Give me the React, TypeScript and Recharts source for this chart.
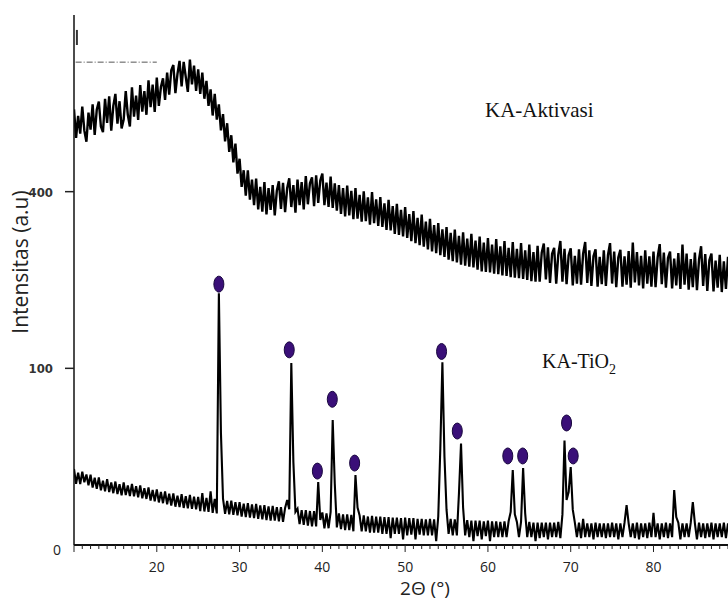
import { ComposedChart, Line, Scatter, XAxis, YAxis, ReferenceLine } from "recharts"

// 2θ sampling of both scans (degrees)
const START = 10
const STEP = 0.25

// KA-Aktivasi, one row per degree (x.00, x.25, x.50, x.75)
const aktivasi = [
  608, 531, 590, 542, 616, 550, 521, 599, 553, 622, 539, 607, 630, 561, 546, 638,
  571, 645, 550, 618, 652, 569, 631, 556, 580, 660, 593, 561, 671, 588, 647, 579,
  678, 602, 660, 593, 692, 614, 679, 601, 700, 618, 672, 698, 635, 715, 650, 722,
  738, 654, 711, 751, 674, 748, 702, 658, 755, 680, 736, 661, 725, 652, 715, 638,
  690, 618, 665, 591, 652, 580, 622, 551, 595, 522, 570, 495, 538, 469, 516, 442,
  478, 411, 450, 391, 450, 382, 428, 370, 430, 361, 411, 356, 422, 350, 408, 360,
  415, 348, 402, 424, 362, 420, 355, 408, 431, 366, 415, 354, 428, 370, 422, 361,
  436, 372, 419, 433, 368, 438, 375, 426, 442, 370, 421, 366, 435, 364, 419, 358,
  415, 351, 408, 346, 414, 348, 402, 340, 408, 341, 393, 335, 401, 336, 387, 329,
  399, 332, 383, 326, 388, 324, 374, 318, 382, 317, 368, 310, 373, 308, 360, 305,
  366, 302, 351, 296, 357, 292, 343, 288, 350, 285, 335, 280, 341, 276, 328, 273,
  332, 269, 319, 266, 324, 261, 312, 258, 319, 256, 306, 252, 313, 250, 301, 248,
  310, 247, 297, 243, 305, 240, 293, 239, 302, 238, 289, 236, 300, 235, 286, 233,
  296, 232, 283, 230, 294, 229, 281, 228, 292, 227, 278, 225, 289, 223, 275, 222,
  287, 222, 274, 291, 226, 284, 220, 272, 283, 219, 270, 296, 222, 281, 218, 269,
  282, 216, 268, 219, 280, 217, 272, 294, 220, 278, 215, 267, 280, 214, 266, 218,
  278, 215, 269, 292, 219, 276, 213, 265, 279, 214, 267, 217, 277, 212, 293, 221,
  275, 216, 268, 211, 278, 219, 267, 214, 276, 213, 265, 290, 218, 274, 212, 264,
  276, 211, 263, 216, 273, 210, 289, 217, 272, 209, 262, 213, 274, 208, 261, 286,
  215, 271, 207, 260, 272, 206, 259, 212, 270, 205, 258, 210, 266,
]

// KA-TiO2, same sampling
const tio2 = [
  18.5, 12.0, 16.8, 11.9, 17.2, 12.6, 15.9, 11.4, 15.8, 10.6, 14.5, 10.1, 14.6, 9.6, 13.2, 9.2,
  13.9, 9.0, 12.5, 8.6, 12.9, 8.3, 11.8, 7.9, 12.5, 8.0, 11.4, 7.7, 12.0, 7.6, 11.1, 7.3,
  11.4, 7.0, 10.3, 6.8, 10.6, 6.3, 9.7, 6.1, 9.9, 5.8, 9.0, 5.6, 9.2, 5.3, 8.4, 5.0,
  8.5, 4.7, 7.8, 4.6, 8.3, 4.4, 7.6, 4.3, 8.0, 4.2, 7.5, 4.1, 7.4, 3.7, 8.6, 3.6,
  7.1, 3.5, 9.2, 3.3, 6.8, 3.2, 203, 40, 6.9, 3.1, 6.2, 3.0, 6.3, 2.9, 5.9, 2.8,
  5.9, 2.6, 5.5, 2.5, 5.6, 2.4, 5.3, 2.3, 5.4, 2.2, 5.0, 2.1, 5.1, 2.0, 4.8, 1.9,
  4.9, 1.9, 4.6, 1.8, 4.6, 1.7, 4.4, 6.5, 4.1, 106, 22, 3.5, 4.2, 1.4, 3.9, 1.3,
  3.9, 1.2, 3.7, 1.1, 3.7, 1.1, 12.7, 2.0, 3.4, 0.9, 3.2, 0.9, 3.5, 50, 12, 1.0,
  3.2, 0.8, 3.0, 0.7, 3.0, 0.7, 2.9, 0.6, 15.7, 4.5, 2.8, 0.6, 2.8, 0.6, 2.6, 0.5,
  2.7, 0.5, 2.6, 0.5, 2.6, 0.4, 2.5, 0.4, 2.5, 0.15, 2.4, 0.4, 2.4, 0.4, 2.3, 0.1,
  2.4, 0.3, 2.3, 0.35, 2.3, 0.1, 2.2, 0.35, 2.2, 0.3, 2.1, 0.3, 2.2, 0.3, 2.1, 0.05,
  2.6, 30, 107, 25, 4.0, 0.4, 2.2, 0.3, 2.1, 0.3, 8.5, 33, 4.5, 0.3, 2.0, 0.2,
  1.9, 0.05, 1.9, 0.25, 1.9, 0.1, 1.8, 0.25, 1.9, 0.05, 1.8, 0.2, 1.8, 0.2, 1.7, 0.2,
  1.8, 0.2, 1.8, 3.5, 18, 3.0, 1.7, 0.2, 1.7, 19, 3.2, 0.2, 1.7, 0.2, 1.6, 0.05,
  1.6, 0.15, 1.6, 0.2, 1.6, 0.1, 1.6, 0.2, 1.6, 0.2, 1.7, 0.15, 3.0, 35, 6.5, 9.0,
  19.5, 4.0, 1.6, 0.2, 1.6, 0.15, 2.2, 0.2, 1.5, 0.2, 1.5, 0.1, 1.6, 0.2, 1.5, 0.2,
  1.5, 0.15, 1.5, 0.2, 1.6, 0.2, 1.5, 0.1, 1.5, 0.2, 1.6, 5.1, 1.5, 0.2, 1.5, 0.15,
  1.6, 0.1, 1.5, 0.2, 1.5, 0.15, 1.6, 0.2, 3.3, 0.2, 1.5, 0.1, 1.5, 0.2, 1.6, 0.15,
  1.5, 0.2, 9.7, 2.5, 1.6, 0.1, 1.5, 0.2, 1.5, 0.2, 1.6, 5.9, 1.5, 0.1, 1.6, 0.2,
  1.5, 0.15, 1.5, 0.2, 1.6, 0.1, 1.5, 0.2, 1.5, 0.2, 1.6, 0.15, 1.5,
]

// phase markers above the TiO2 reflections
const peakPos = [27.5, 36.0, 39.4, 41.2, 43.9, 54.4, 56.3, 62.4, 64.2, 69.5, 70.3]
const peakMarkY = [218, 122, 17.5, 68, 21.5, 120, 41.6, 25.4, 25.4, 47.7, 25.4]

const xMajor = [20, 30, 40, 50, 60, 70, 80]
const xTicks = Array.from({ length: 80 }, (_, i) => 10 + i)
const yTicks = [0, 100, 400]

const toPoints = (vals: number[]) => vals.map((v, i) => ({ x: START + i * STEP, y: v }))
const aktivasiData = toPoints(aktivasi)
const tio2Data = toPoints(tio2)
const markerData = peakPos.map((x, i) => ({ x, y: peakMarkY[i] }))

const tickFont = "'Open Sans', 'Liberation Sans', sans-serif"

function XTick({ x, y, payload }: any) {
  const v = payload.value
  const major = v % 10 === 0
  return (
    <g>
      <line x1={x} x2={x} y1={y} y2={y + (major ? 7 : 4)} stroke="#222" strokeWidth={1} />
      {major && xMajor.includes(v) && (
        <text x={x} y={y + 27} textAnchor="middle" fontSize={14} fill="#222" fontFamily={tickFont}>
          {v}
        </text>
      )}
    </g>
  )
}

function YTick({ x, y, payload }: any) {
  if (payload.value === 0) {
    return (
      <text x={x - 17} y={y + 10} textAnchor="middle" fontSize={14} fill="#222" fontFamily={tickFont}>
        0
      </text>
    )
  }
  return (
    <g>
      <line x1={x - 9} x2={x} y1={y} y2={y} stroke="#222" strokeWidth={1.5} />
      <text
        x={x - 21}
        y={y + 5}
        textAnchor="end"
        fontSize={13}
        fill="#333"
        fontWeight={600}
        fontFamily="'Liberation Sans Narrow', 'DejaVu Sans Condensed', sans-serif"
      >
        {payload.value}
      </text>
    </g>
  )
}

const PeakMarker = ({ cx, cy }: any) => (
  <ellipse cx={cx} cy={cy} rx={5} ry={8} fill="#3a0f78" stroke="#1a0840" strokeWidth={1} />
)

export default function App() {
  return (
    <div style={{ position: "absolute", left: 0, top: 0, width: 728, height: 603, background: "#fff" }}>
      <ComposedChart width={728} height={603} margin={{ top: 15, right: 0, bottom: 0, left: 0 }}>
        <XAxis
          type="number"
          dataKey="x"
          domain={[10, 89]}
          ticks={xTicks}
          interval={0}
          allowDataOverflow
          height={58}
          tickSize={0}
          tickMargin={0}
          tickLine={false}
          tick={<XTick />}
          axisLine={{ stroke: "#111", strokeWidth: 2 }}
        />
        <YAxis
          type="number"
          scale="sqrt"
          domain={[0, 900]}
          ticks={yTicks}
          interval={0}
          allowDataOverflow
          width={74}
          tickSize={0}
          tickMargin={0}
          tickLine={false}
          tick={<YTick />}
          axisLine={{ stroke: "#111", strokeWidth: 1.5 }}
        />
        <ReferenceLine
          segment={[{ x: 10.2, y: 747 }, { x: 20, y: 747 }]}
          stroke="#555"
          strokeDasharray="6 2 1 2"
        />
        <ReferenceLine
          segment={[{ x: 10.35, y: 801 }, { x: 10.35, y: 850 }]}
          stroke="#333"
          strokeWidth={2}
        />
        <Line
          data={aktivasiData}
          dataKey="y"
          type="linear"
          stroke="#000"
          strokeWidth={2.4}
          dot={false}
          isAnimationActive={false}
        />
        <Line
          data={tio2Data}
          dataKey="y"
          type="linear"
          stroke="#000"
          strokeWidth={2.1}
          dot={false}
          isAnimationActive={false}
        />
        <Scatter data={markerData} dataKey="y" shape={<PeakMarker />} isAnimationActive={false} />
      </ComposedChart>
      <svg
        width={728}
        height={603}
        style={{ position: "absolute", left: 0, top: 0, pointerEvents: "none" }}
      >
        <text x={485} y={117} fontSize={21} fontFamily="'Liberation Serif', serif" fill="#111">
          KA-Aktivasi
        </text>
        <text x={542} y={368} fontSize={20} fontFamily="'Liberation Serif', serif" fill="#111">
          KA-TiO
          <tspan fontSize={14} dy={6}>
            2
          </tspan>
        </text>
        <text
          transform="translate(28 262) rotate(-90)"
          textAnchor="middle"
          fontSize={21}
          fontFamily={tickFont}
          fill="#222"
        >
          Intensitas (a.u)
        </text>
        <text x={425} y={595} textAnchor="middle" fontSize={19} fontFamily={tickFont} fill="#222">
          2Θ (°)
        </text>
      </svg>
    </div>
  )
}
